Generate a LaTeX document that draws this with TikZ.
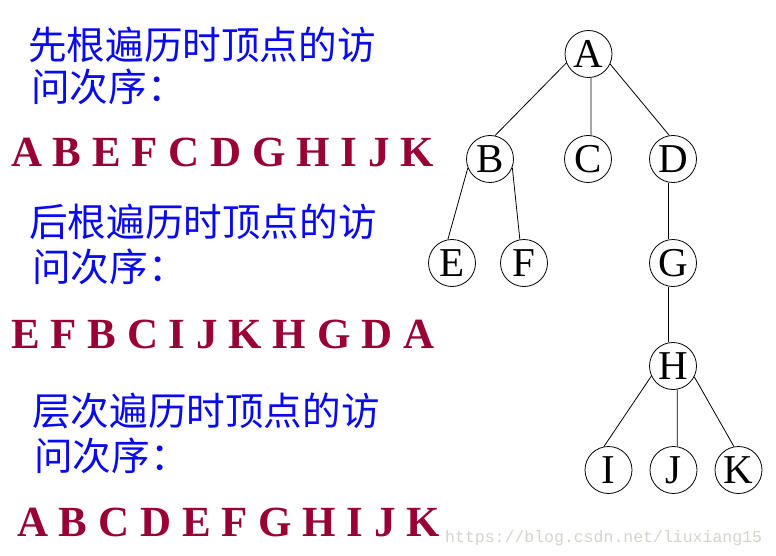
\documentclass[tikz,border=0pt]{standalone}
\usepackage{fontspec}
\setmainfont{Liberation Serif}
\newfontfamily\cjk{Noto Sans CJK SC}
\newfontfamily\wmfont{Liberation Mono}
\definecolor{seqred}{RGB}{153,0,51}
\definecolor{cnblue}{RGB}{10,10,240}
\definecolor{wmgray}{RGB}{212,212,204}

\begin{document}
\begin{tikzpicture}[x=1pt,y=-1pt,
	tnode/.style={circle,draw,line width=0.8pt,minimum size=47pt,inner sep=0pt,
		font=\fontsize{41}{41}\selectfont,text height=27.1pt,text depth=0pt},
	cntext/.style={anchor=west,inner sep=0pt,text=cnblue,
		font=\cjk\fontsize{38.6}{38.6}\selectfont,text height=32pt,text depth=2.7pt},
	seqtext/.style={anchor=west,inner sep=0pt,text=seqred,
		font=\bfseries\fontsize{43}{43}\selectfont,text height=28.5pt,text depth=0pt}]
		\useasboundingbox (0,0) rectangle (776,556);
		\fill[white] (0,0) rectangle (776,556);

		% texts on the left
		\node[cntext] (pre1) at (28,45) {先根遍历时顶点的访};
		\node[cntext] (pre2) at (31,87) {问次序：};
		\node[seqtext] (preseq) at (11,152.5) {A B E F C D G H I J K};

		\node[cntext] (post1) at (29,222) {后根遍历时顶点的访};
		\node[cntext] (post2) at (32,266.5) {问次序：};
		\node[seqtext] (postseq) at (11,334.5) {E F B C I J K H G D A};

		\node[cntext] (lvl1) at (32,411) {层次遍历时顶点的访};
		\node[cntext] (lvl2) at (34,456) {问次序：};
		\node[seqtext] (lvlseq) at (17,522.5) {A B C D E F G H I J K};

		% the tree
		\node[tnode] (A) at (588.5,54) {A};
		\node[tnode] (B) at (490,159) {B};
		\node[tnode] (C) at (588,159) {C};
		\node[tnode] (D) at (673,159) {D};
		\node[tnode] (E) at (452,263) {E};
		\node[tnode] (F) at (524,263) {F};
		\node[tnode] (G) at (673,263) {G};
		\node[tnode] (H) at (673,366) {H};
		\node[tnode] (I) at (608.5,470) {I};
		\node[tnode] (J) at (673.5,470) {J};
		\node[tnode] (K) at (738.5,470) {K};

		\draw[line width=0.8pt] (A.202) -- (B.78);
		\draw[line width=0.8pt] (A.276) -- (C.83);
		\draw[line width=0.8pt] (A.335) -- (D.99);
		\draw[line width=0.8pt] (B.202) -- (E.100);
		\draw[line width=0.8pt] (B.339) -- (F.100);
		\draw[line width=0.8pt] (D.260) -- (G.100);
		\draw[line width=0.8pt] (G.260) -- (H.100);
		\draw[line width=0.8pt] (H.205) -- (I.101);
		\draw[line width=0.8pt] (H.280) -- (J.81);
		\draw[line width=0.8pt] (H.333) -- (K.101);

		\node[anchor=base west,inner sep=0pt,text=wmgray,font=\wmfont\fontsize{16.5}{16.5}\selectfont]
			(wm) at (445,542) {https://blog.csdn.net/liuxiang15};
	\end{tikzpicture}
\end{document}
